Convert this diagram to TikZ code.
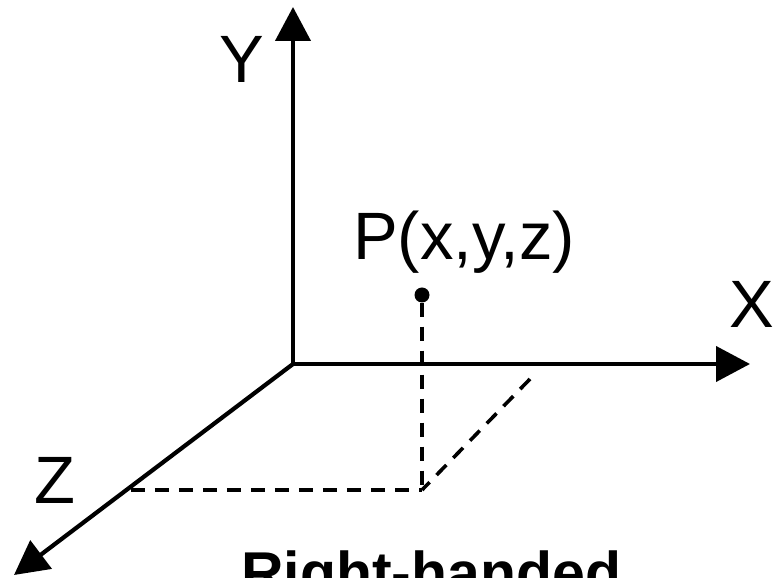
\documentclass[tikz,border=0pt]{standalone}
\usepackage{fontspec}
\setmainfont{Liberation Sans}
\usetikzlibrary{positioning,arrows.meta}
\tikzset{
  axtip/.tip={Triangle[length=34pt,width=35pt]},
  axis/.style={line width=4.2pt,draw=black},
  proj/.style={line width=3.6pt,draw=black,dash pattern=on 14pt off 10pt},
  lbl/.style={inner sep=0pt,font=\fontsize{67}{80}\selectfont},
  caption/.style={inner sep=0pt,font=\bfseries\fontsize{59}{70}\selectfont}
}
\begin{document}
\begin{tikzpicture}[x=1pt,y=1pt,node distance=0pt]
  \useasboundingbox (-293,-214) rectangle (489,364);
  \coordinate (O) at (0,0);
  \coordinate[above=357pt of O] (ytip);
  \coordinate[right=457pt of O] (xtip);
  \coordinate (ztip) at (-279,-211);
  \node[circle,fill=black,inner sep=0pt,minimum size=15pt] (P) at (129,69) {};
  \coordinate (foot) at (129,-126);
  \coordinate[left=291pt of foot] (zfoot);
  \coordinate (xfoot) at (237,-15);

  \draw[axis,axtip-axtip] (ytip) -- (O) -- (xtip);
  \draw[axis,-axtip] (O) -- (ztip);
  \draw[proj] (P) -- (foot);
  \draw[proj] (zfoot) -- (foot);
  \draw[proj] (xfoot) -- (foot);

  \node[lbl,anchor=base] (ylbl) at (-51,281) {Y};
  \node[lbl,anchor=base] (xlbl) at (459,36) {X};
  \node[lbl,anchor=base] (zlbl) at (-238,-140) {Z};
  \node[lbl,anchor=base west] (plbl) at (60,104) {P(x,y,z)};
  \node[caption,anchor=base west] (title) at (-52,-229) {Right-handed};
\end{tikzpicture}
\end{document}
